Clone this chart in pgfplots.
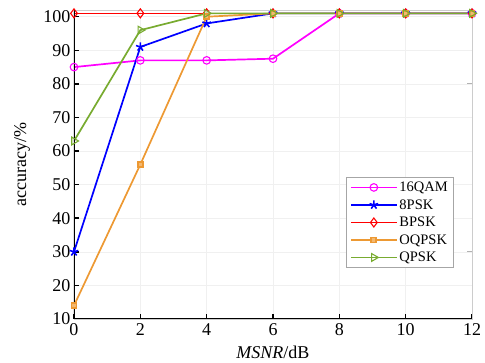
\documentclass[border=0pt]{standalone}
\usepackage{fontspec}
\setmainfont{Liberation Serif}
\usepackage{pgfplots}
\pgfplotsset{compat=1.18}
\definecolor{cqam}{rgb}{1,0,1}
\definecolor{c8psk}{rgb}{0,0,1}
\definecolor{cbpsk}{rgb}{1,0,0}
\definecolor{coqpsk}{rgb}{0.93,0.6,0.2}
\definecolor{cqpsk}{rgb}{0.47,0.67,0.19}
\begin{document}
\begin{tikzpicture}
\path[use as bounding box] (-74pt,-44pt) rectangle (411pt,319pt);
\begin{axis}[
  at={(0,0)}, anchor=south west,
  scale only axis,
  width=398pt, height=309pt,
  xmin=0, xmax=12, ymin=10, ymax=102,
  axis x line=none,
  axis y line*=right,
  ytick={10,20,...,100}, yticklabels={},
  y axis line style={gray!40, line width=0.6pt, -},
  ytick style={gray!60, line width=0.8pt},
  major tick length=5pt,
  tick align=inside,
]
\end{axis}
\begin{axis}[
  at={(0,0)}, anchor=south west,
  scale only axis,
  width=398pt, height=309pt,
  xmin=0, xmax=12, ymin=10, ymax=102,
  xtick={0,2,...,12}, ytick={10,20,...,100},
  xtick pos=bottom, ytick pos=left,
  grid=major,
  grid style={gray!12, line width=0.6pt},
  axis line style={gray!40, line width=0.6pt},
  tick style={black, line width=1.5pt},
  major tick length=5pt,
  tick align=inside,
  ticklabel style={font=\fontsize{18}{21}\selectfont},
  xticklabel style={yshift=-1pt},
  /pgf/number format/assume math mode=true,
  xlabel={\textit{MSNR}/dB},
  ylabel={accuracy/\%},
  label style={font=\fontsize{18}{21}\selectfont},
  xlabel style={at={([yshift=-33pt]rel axis cs:0.5,0)}, anchor=center},
  ylabel style={at={([xshift=-52pt]rel axis cs:0,0.5)}, anchor=center},
  legend style={at={(rel axis cs:0.683,0.458)}, anchor=north west,
    font=\fontsize{14.5}{16}\selectfont, draw=gray!70, line width=0.8pt,
    inner xsep=4pt, inner ysep=2pt, row sep=2.4pt,
    /tikz/every even column/.append style={column sep=0pt}},
  legend cell align=left,
  legend image code/.code={\draw[mark repeat=2,mark phase=2] plot coordinates {(0cm,0cm) (0.8cm,0cm) (1.6cm,0cm)};},
]
\addplot[cqam, line width=1.7pt, mark=o, mark size=3.8pt, mark options={solid, line width=1.1pt}] coordinates {(0,85) (2,87) (4,87) (6,87.5) (8,101) (10,101) (12,101)};
\addlegendentry{16QAM}
\addplot[c8psk, line width=1.7pt, mark=star, mark size=4.5pt, mark options={solid, line width=1.6pt}] coordinates {(0,30) (2,91) (4,98) (6,101) (8,101) (10,101) (12,101)};
\addlegendentry{8PSK}
\addplot[cbpsk, line width=1.7pt, mark=diamond, mark size=4.5pt, mark options={solid, line width=1.1pt}] coordinates {(0,101) (2,101) (4,101) (6,101) (8,101) (10,101) (12,101)};
\addlegendentry{BPSK}
\addplot[coqpsk, line width=1.7pt, mark=square*, mark size=2.5pt, mark options={solid, fill=coqpsk!70}] coordinates {(0,14) (2,56) (4,100) (6,101) (8,101) (10,101) (12,101)};
\addlegendentry{OQPSK}
\addplot[cqpsk, line width=1.7pt, mark=triangle, mark size=4.5pt, mark options={solid, rotate=-90, line width=1.1pt}] coordinates {(0,63) (2,96) (4,101) (6,101) (8,101) (10,101) (12,101)};
\addlegendentry{QPSK}
\draw[black, line width=2pt] (rel axis cs:0,1) -- (rel axis cs:0,0) -- (rel axis cs:1,0);
\end{axis}
\end{tikzpicture}
\end{document}
